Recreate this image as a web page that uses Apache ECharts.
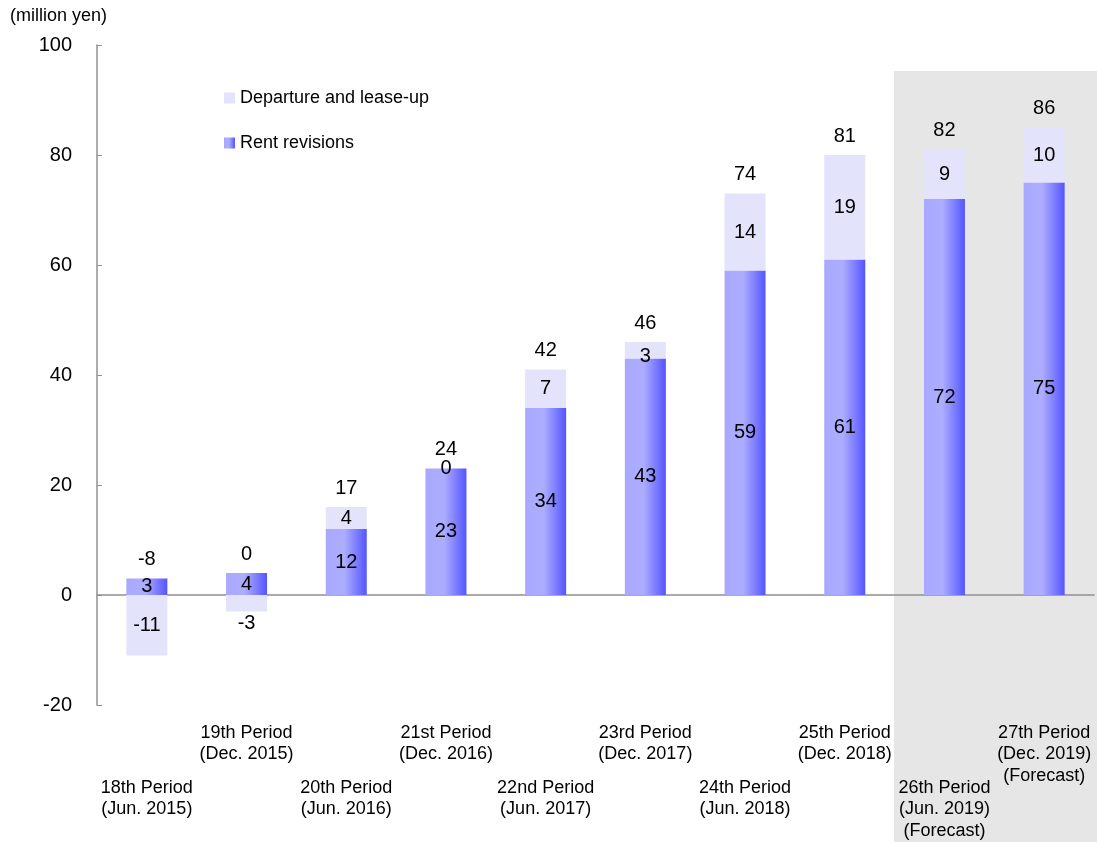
<!DOCTYPE html>
<html>
<head>
<meta charset="utf-8">
<script src="https://cdn.jsdelivr.net/npm/echarts@6/dist/echarts.min.js"></script>
<style>
  html, body { margin: 0; padding: 0; background: #fff; }
  #main { width: 1097px; height: 842px; }
</style>
</head>
<body>
<div id="main"></div>
<script>
var categories = [
	'18th Period\n(Jun. 2015)', '19th Period\n(Dec. 2015)', '20th Period\n(Jun. 2016)',
	'21st Period\n(Dec. 2016)', '22nd Period\n(Jun. 2017)', '23rd Period\n(Dec. 2017)',
	'24th Period\n(Jun. 2018)', '25th Period\n(Dec. 2018)',
	'26th Period\n(Jun. 2019)\n(Forecast)', '27th Period\n(Dec. 2019)\n(Forecast)'
];
var rentRevisions = [3, 4, 12, 23, 34, 43, 59, 61, 72, 75];
var departure = [-11, -3, 4, 0, 7, 3, 14, 19, 9, 10];
var totals = [-8, 0, 17, 24, 42, 46, 74, 81, 82, 86];
var yTicks = { min: -20, max: 100, interval: 20 };

var chart = echarts.init(document.getElementById('main'));
var font = 'Liberation Sans, Arial, sans-serif';

var rentColor = new echarts.graphic.LinearGradient(0, 0, 1, 0, [
	{ offset: 0, color: '#a8a8ff' },
	{ offset: 0.45, color: '#adadff' },
	{ offset: 1, color: '#5555ff' }
]);

// label tweaks for small segments
var depData = departure.map(function (v, i) {
	if (i === 1) return { value: v, label: { position: 'bottom', distance: 2 } };
	if (i === 5) return { value: v, label: { offset: [0, 6] } };
	return v;
});

// totals sit just above the top of each stack
var totalPoints = totals.map(function (t, i) {
	return [i, rentRevisions[i] + Math.max(departure[i], 0)];
});

var labelAxis = function (odd, margin) {
	return {
		type: 'category',
		data: categories,
		position: 'bottom',
		gridIndex: 0,
		axisLine: { show: false, onZero: false },
		axisTick: { show: false },
		axisLabel: {
			interval: function (idx) { return (idx % 2 === 1) === odd; },
			margin: margin,
			fontSize: 18,
			lineHeight: 21.5,
			color: '#000',
			fontFamily: font
		}
	};
};

var option = {
	backgroundColor: '#fff',
	animation: false,
	textStyle: { fontFamily: font },
	title: {
		text: '(million yen)',
		left: 10,
		top: 7,
		padding: 0,
		textStyle: { fontSize: 18, fontWeight: 'normal', color: '#000', fontFamily: font }
	},
	graphic: [{
		type: 'rect',
		z: -10,
		silent: true,
		shape: { x: 894, y: 71, width: 203, height: 771 },
		style: { fill: '#e6e6e6' }
	}],
	legend: {
		orient: 'vertical',
		left: 224,
		top: 89,
		padding: 0,
		itemWidth: 11,
		itemHeight: 11,
		itemGap: 27,
		icon: 'rect',
		data: ['Departure and lease-up', 'Rent revisions'],
		textStyle: { fontSize: 18, color: '#000', fontFamily: font }
	},
	grid: { left: 97, right: 3, top: 45, bottom: 137 },
	xAxis: [{
		type: 'category',
		data: categories,
		axisLine: { onZero: true, lineStyle: { color: '#909090', width: 1.5 } },
		axisTick: { inside: true, length: 5, lineStyle: { color: '#909090' } },
		axisLabel: { show: false }
	}, labelAxis(true, 17), labelAxis(false, 72)],
	yAxis: {
		type: 'value',
		min: yTicks.min,
		max: yTicks.max,
		interval: yTicks.interval,
		axisLine: { show: true, lineStyle: { color: '#909090', width: 1.5 } },
		axisTick: { show: true, inside: true, length: 5, lineStyle: { color: '#909090' } },
		splitLine: { show: false },
		axisLabel: { fontSize: 20, color: '#000', margin: 25, fontFamily: font }
	},
	series: [{
		name: 'Rent revisions',
		type: 'bar',
		stack: 'a',
		barWidth: 41,
		data: rentRevisions,
		itemStyle: { color: rentColor },
		label: { show: true, position: 'inside', fontSize: 20, color: '#000', fontFamily: font }
	}, {
		name: 'Departure and lease-up',
		type: 'bar',
		stack: 'a',
		barWidth: 41,
		data: depData,
		itemStyle: { color: '#e3e3fc' },
		label: { show: true, position: 'inside', fontSize: 20, color: '#000', fontFamily: font }
	}, {
		name: 'Total',
		type: 'scatter',
		symbolSize: 0,
		data: totalPoints,
		silent: true,
		itemStyle: { opacity: 1 },
		label: {
			show: true,
			position: 'top',
			distance: 9,
			fontSize: 20,
			color: '#000',
			opacity: 1,
			fontFamily: font,
			formatter: function (p) { return String(totals[p.dataIndex]); }
		}
	}]
};

chart.setOption(option);
</script>
</body>
</html>
